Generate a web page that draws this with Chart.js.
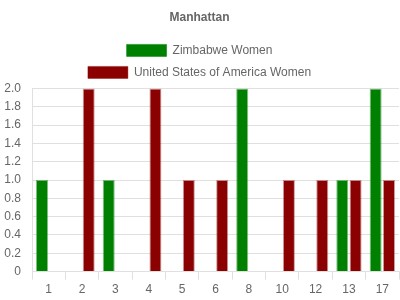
<!DOCTYPE html>
<html>
<head>
<meta charset="utf-8">
<script src="https://cdn.jsdelivr.net/npm/chart.js@4"></script>
<style>
html,body{margin:0;padding:0;background:#fff;}
#wrap{width:400px;height:300px;}
</style>
</head>
<body>
<div id="wrap"><canvas id="c"></canvas></div>
<script>
const categories = ["1","2","3","4","5","6","8","10","12","13","17"];
const zimbabweWomen = [1,0,1,0,0,0,2,0,0,1,2];
const usaWomen = [0,2,0,2,1,1,0,1,1,1,1];
const seriesNames = ["Zimbabwe Women","United States of America Women"];

Chart.defaults.font.family = "'Liberation Sans', Arial, sans-serif";
Chart.defaults.font.size = 12;
Chart.defaults.color = '#666';

new Chart(document.getElementById('c'), {
  type: 'bar',
  data: {
    labels: categories,
    datasets: [
      {label: seriesNames[0], data: zimbabweWomen, backgroundColor: '#008000', borderColor: 'rgba(0,128,0,0.5)', borderWidth: 1},
      {label: seriesNames[1], data: usaWomen, backgroundColor: '#8b0000', borderColor: 'rgba(139,0,0,0.4)', borderWidth: 1}
    ]
  },
  options: {
    responsive: true,
    maintainAspectRatio: false,
    animation: false,
    layout: {padding: {left: 0, right: 1, top: 0, bottom: 0}},
    plugins: {
      title: {display: true, text: 'Manhattan', font: {size: 12, weight: 'bold'}, color: '#666', padding: {top: 10, bottom: 10}},
      legend: {position: 'top', maxWidth: 260, labels: {boxWidth: 40, boxHeight: 12, padding: 10, color: '#666'}},
      tooltip: {enabled: false}
    },
    scales: {
      x: {
        grid: {offset: true, color: '#e0e0e0', drawOnChartArea: false, tickLength: 8},
        border: {color: '#e0e0e0'},
        ticks: {color: '#666', padding: 3}
      },
      y: {
        min: 0, max: 2,
        afterFit: (axis) => { axis.width = 32; },
        ticks: {stepSize: 0.2, color: '#666', padding: 11, callback: v => v === 0 ? '0' : Number(v).toFixed(1)},
        grid: {color: '#e0e0e0', drawTicks: false},
        border: {color: '#e0e0e0'}
      }
    }
  }
});
</script>
</body>
</html>
